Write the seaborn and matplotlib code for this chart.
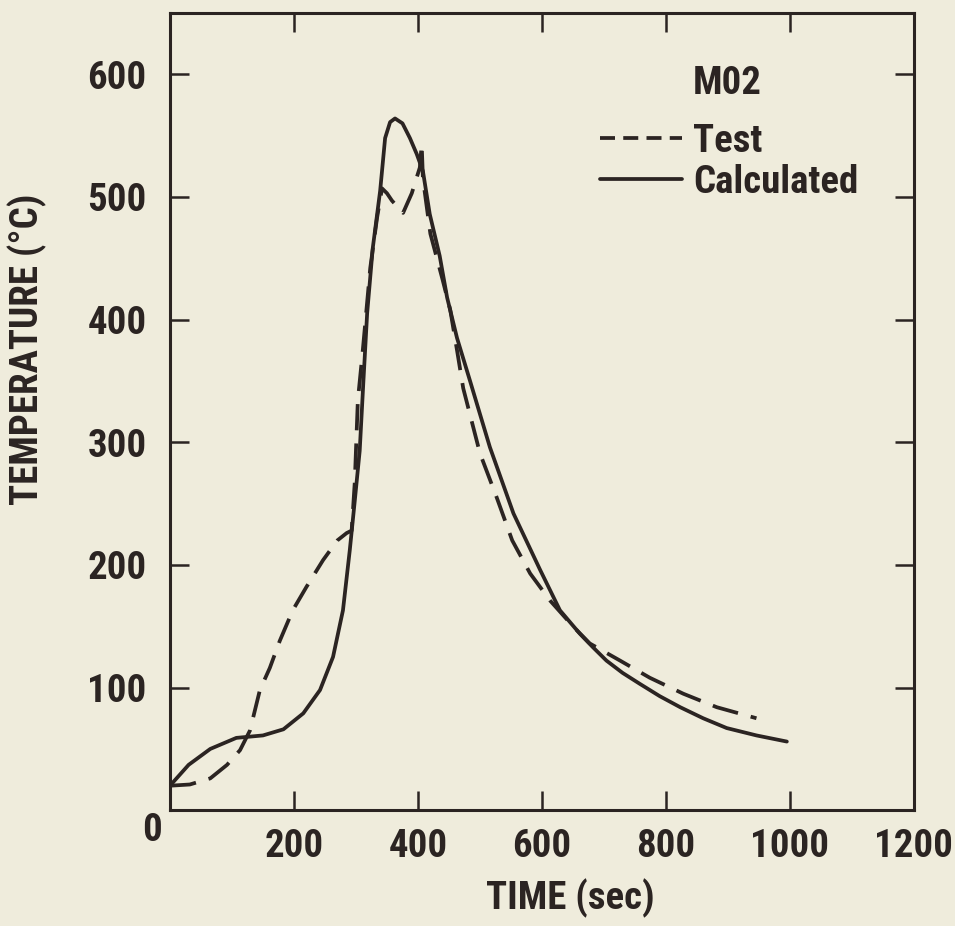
import pandas as pd
import seaborn as sns
import matplotlib.pyplot as plt
from matplotlib import font_manager
from matplotlib.lines import Line2D

test_time = [0, 32, 65, 92, 113, 129, 145, 161, 177, 198, 220, 247, 270, 285, 293,
             298, 303, 311, 323, 334, 342, 350, 358, 376, 390, 403, 406, 408, 420,
             440, 452, 463, 473, 500, 527, 552, 581, 613, 650, 677, 726, 774, 828,
             882, 946]
test_temp = [20, 21, 26, 37, 49, 65, 98, 116, 138, 163, 182, 204, 220, 226, 228,
             267, 334, 375, 442, 483, 507, 503, 497, 487, 503, 524, 543, 515, 470,
             432, 408, 375, 344, 291, 255, 220, 193, 171, 150, 136, 122, 108, 95,
             84, 75]

# Calculated curve
calc_time = [0, 30, 65, 107, 150, 183, 215, 242, 263, 279, 290, 298, 306, 312, 318,
             327, 339, 347, 355, 363, 375, 387, 398, 408, 419, 435, 447, 463, 484,
             516, 554, 597, 629, 661, 682, 704, 730, 758, 790, 823, 860, 898, 946,
             995]
calc_temp = [20, 37, 50, 59, 61, 66, 79, 98, 125, 163, 212, 252, 293, 350, 405,
             458, 505, 548, 561, 564, 560, 548, 535, 521, 486, 452, 418, 385, 350,
             296, 242, 196, 163, 144, 133, 122, 112, 103, 93, 84, 75, 67, 61,
             56]

x_ticks = [200, 400, 600, 800, 1000, 1200]
y_ticks = [100, 200, 300, 400, 500, 600]

ink = "#2b2422"
paper = "#efecdc"

df = pd.concat([
    pd.DataFrame({"time": test_time, "temp": test_temp, "series": "Test"}),
    pd.DataFrame({"time": calc_time, "temp": calc_temp, "series": "Calculated"}),
])

sns.set_style("ticks")
installed = {f.name for f in font_manager.fontManager.ttflist}
family = "DejaVu Sans"
for cand in ["Roboto Condensed", "Archivo Narrow", "PT Sans Narrow",
             "Barlow Condensed", "Liberation Sans Narrow"]:
    if cand in installed:
        family = cand
        break
plt.rcParams["font.family"] = [family, "DejaVu Sans"]
plt.rcParams["font.weight"] = "bold"
plt.rcParams["axes.labelweight"] = "bold"

fs = 28

fig = plt.figure(figsize=(9.55, 9.26), dpi=100, facecolor=paper)
ax = fig.add_axes([0.178, 0.125, 0.779, 0.861])
ax.set_facecolor(paper)

sns.lineplot(
    data=df, x="time", y="temp", style="series",
    dashes={"Test": (7, 3.5), "Calculated": ""},
    color=ink, linewidth=2.7, estimator=None, sort=False, legend=False, ax=ax,
)

ax.set_xlim(0, 1200)
ax.set_ylim(0, 650)
ax.set_xticks(x_ticks)
ax.set_yticks(y_ticks)
ax.tick_params(direction="in", length=14, width=1.8, colors=ink,
               labelsize=fs, top=True, right=True)
ax.tick_params(axis="x", pad=13)
ax.tick_params(axis="y", pad=17)
for s in ax.spines.values():
    s.set_linewidth(2.2)
    s.set_color(ink)

ax.set_xlabel("TIME (sec)", fontsize=fs, color=ink)
ax.set_ylabel("TEMPERATURE (°C)", fontsize=fs, color=ink)
ax.xaxis.set_label_coords(0.538, -0.086)
ax.yaxis.set_label_coords(-0.165, 0.578)

# shared origin label
ax.annotate("0", (0, 0), xytext=(-13, -14.5), textcoords="offset points",
            ha="center", va="center", fontsize=fs, color=ink)

ax.text(0.703, 0.912, "M02", transform=ax.transAxes, fontsize=fs,
        color=ink, va="center", ha="left")
handles = [
    Line2D([], [], color=ink, linewidth=2.7, linestyle=(0, (4, 2.2))),
    Line2D([], [], color=ink, linewidth=2.7),
]
leg = ax.legend(handles, ["Test", "Calculated"], loc="upper left",
                bbox_to_anchor=(0.578, 0.862), frameon=False, fontsize=fs,
                handlelength=2.1, handletextpad=0.3, labelspacing=0.1,
                borderpad=0, borderaxespad=0)
for t in leg.get_texts():
    t.set_color(ink)

plt.savefig("out.png", dpi=100, facecolor=paper)
